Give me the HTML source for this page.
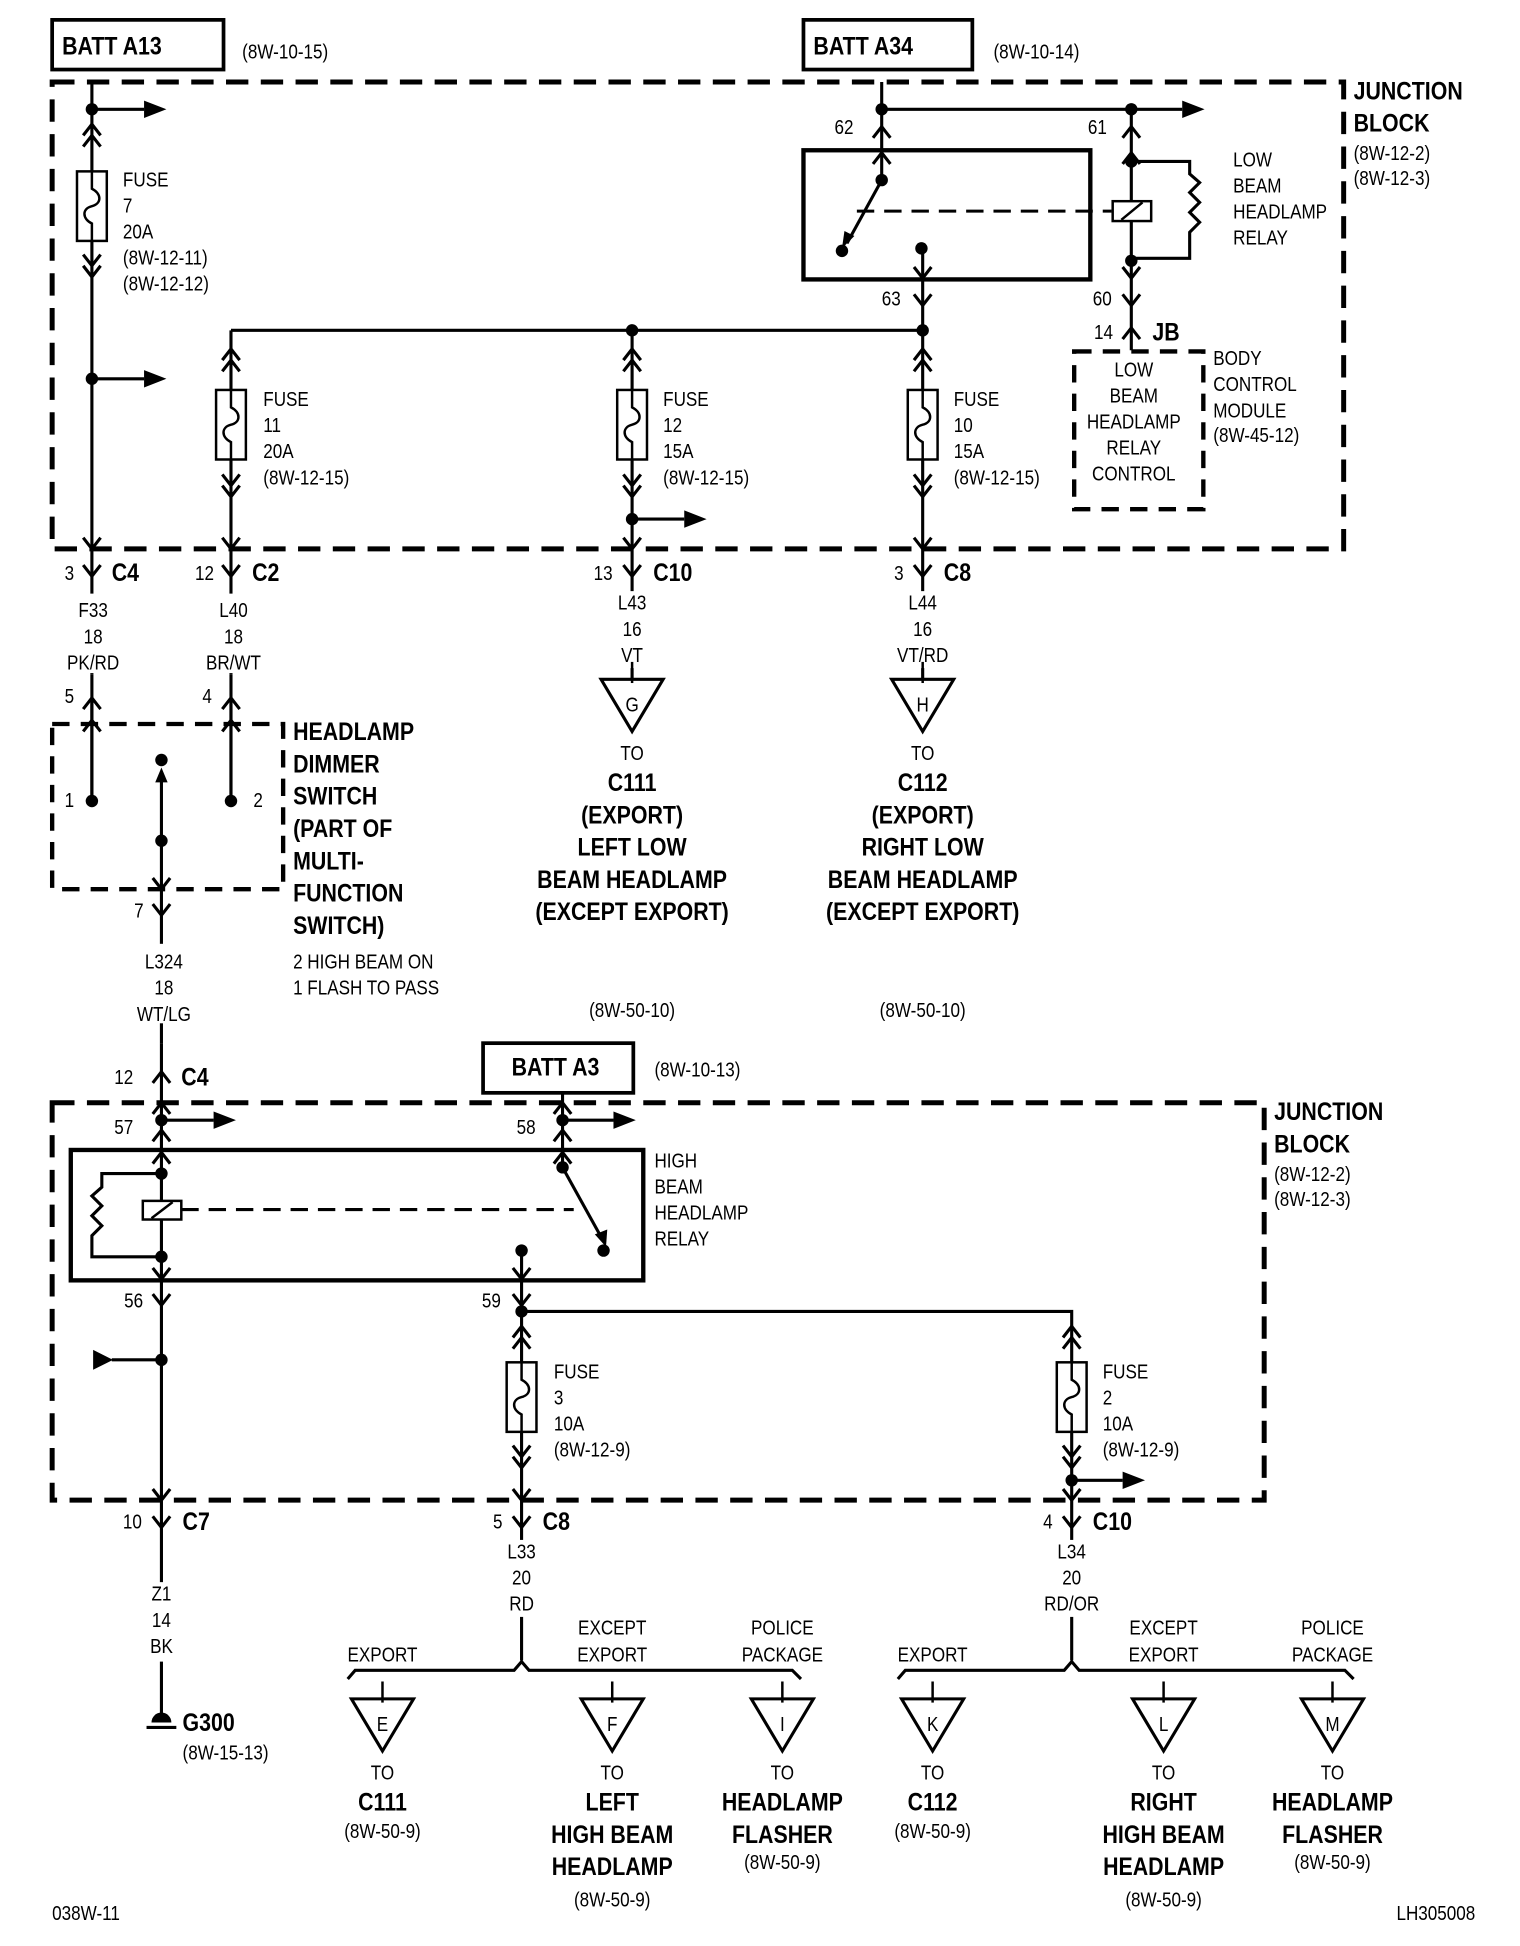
<!DOCTYPE html>
<html><head><meta charset="utf-8"><style>
html,body{margin:0;padding:0;background:#fff;}
svg{display:block;}
text{font-family:"Liberation Sans Narrow","Liberation Sans",sans-serif;fill:#000;transform-box:fill-box;transform-origin:0% 50%;transform:scaleX(0.86);}
.n{font-size:16px;}
.b{font-size:20px;font-weight:bold;}
.m{text-anchor:middle;transform-origin:50% 50%;}
.e{text-anchor:end;transform-origin:100% 50%;}
</style></head><body>
<svg width="1520" height="1946" viewBox="0 0 1224 1567" preserveAspectRatio="none" xmlns="http://www.w3.org/2000/svg">
<defs>
<path id="cd" d="M-7,-9 L0,0 L7,-9" fill="none" stroke="#000" stroke-width="2.5"/>
<path id="cu" d="M-7,9 L0,0 L7,9" fill="none" stroke="#000" stroke-width="2.5"/>
<circle id="dt" r="5" fill="#000"/>
<polygon id="ar" points="0,-7 18,0 0,7" fill="#000"/>
<g id="fz"><rect x="-12" y="0" width="24" height="56" fill="#fff" stroke="#000" stroke-width="2"/><path d="M0,0 v14 c8,4 8,12 0,14 c-8,2 -8,10 0,14 v14" fill="none" stroke="#000" stroke-width="2"/></g>
<g id="tri"><polygon points="-25,0 25,0 0,42" fill="#fff" stroke="#000" stroke-width="2.5"/><line x1="0" y1="-14" x2="0" y2="3" stroke="#000" stroke-width="2"/></g>
</defs>
<rect width="1224" height="1567" fill="#fff"/>

<rect x="42" y="16" width="138" height="40" fill="none" stroke="#000" stroke-width="3"/>
<text x="50" y="44" class="b">BATT A13</text>
<text x="195" y="47" class="n">(8W-10-15)</text>
<rect x="647" y="16" width="136" height="40" fill="none" stroke="#000" stroke-width="3"/>
<text x="655" y="44" class="b">BATT A34</text>
<text x="800" y="47" class="n">(8W-10-14)</text>

<rect x="42" y="66" width="1040" height="376" fill="none" stroke="#000" stroke-width="4" stroke-dasharray="18,10"/>
<text x="1090" y="80" class="b">JUNCTION</text>
<text x="1090" y="106" class="b">BLOCK</text>
<text x="1090" y="129" class="n">(8W-12-2)</text>
<text x="1090" y="149" class="n">(8W-12-3)</text>

<g stroke="#000" stroke-width="2.5" fill="none">
<path d="M74,66 V645 M74,88 H116 M74,305 H116"/>
<path d="M186,266 V645 M186,266 H743"/>
<path d="M509,266 V547 M509,418 H551"/>
<path d="M743,200 V547"/>
<path d="M710,66 V145 M710,88 H952"/>
<path d="M911,88 V282"/>
<path d="M710,145 L682,196"/>
<path d="M911,130 H958 V140 l8,7 l-8,8 l8,8 l-8,8 l8,8 l-8,8 V208 H911"/>
<path d="M690,170 H895" stroke-dasharray="14,8"/>
</g>
<rect x="647" y="121" width="231" height="104" fill="none" stroke="#000" stroke-width="3.5"/>
<rect x="896" y="162" width="31" height="16" fill="#fff" stroke="#000" stroke-width="2"/>
<line x1="903" y1="177" x2="920" y2="163" stroke="#000" stroke-width="2"/>
<polygon points="678,200 680,186 688,190" fill="#000"/>
<use href="#dt" x="678" y="202"/><use href="#dt" x="710" y="145"/><use href="#dt" x="742" y="200"/>
<use href="#dt" x="710" y="88"/><use href="#dt" x="911" y="88"/><use href="#dt" x="911" y="130"/><use href="#dt" x="911" y="210"/>
<use href="#ar" x="952" y="88"/>
<use href="#cu" x="710" y="102"/><use href="#cu" x="710" y="123"/>
<use href="#cu" x="911" y="102"/><use href="#cu" x="911" y="123"/>
<use href="#cd" x="743" y="224"/><use href="#cd" x="743" y="246"/>
<use href="#cd" x="911" y="224"/><use href="#cd" x="911" y="246"/>
<use href="#cu" x="911" y="264"/>
<text x="672" y="108" class="n">62</text><text x="876" y="108" class="n">61</text>
<text x="710" y="246" class="n">63</text><text x="880" y="246" class="n">60</text>
<text x="881" y="273" class="n">14</text><text x="928" y="274" class="b">JB</text>
<text x="993" y="134" class="n">LOW</text><text x="993" y="155" class="n">BEAM</text><text x="993" y="176" class="n">HEADLAMP</text><text x="993" y="197" class="n">RELAY</text>

<rect x="865" y="283" width="104" height="127" fill="none" stroke="#000" stroke-width="3.5" stroke-dasharray="14,9"/>
<text x="913" y="303" class="n m">LOW</text><text x="913" y="324" class="n m">BEAM</text><text x="913" y="345" class="n m">HEADLAMP</text><text x="913" y="366" class="n m">RELAY</text><text x="913" y="387" class="n m">CONTROL</text>
<text x="977" y="294" class="n">BODY</text><text x="977" y="315" class="n">CONTROL</text><text x="977" y="336" class="n">MODULE</text><text x="977" y="356" class="n">(8W-45-12)</text>

<use href="#dt" x="74" y="88"/><use href="#ar" x="116" y="88"/>
<use href="#cu" x="74" y="100"/><use href="#cu" x="74" y="109"/>
<use href="#fz" x="74" y="138"/>
<use href="#cd" x="74" y="214"/><use href="#cd" x="74" y="223"/>
<use href="#dt" x="74" y="305"/><use href="#ar" x="116" y="305"/>
<text x="99" y="150" class="n">FUSE</text><text x="99" y="171" class="n">7</text><text x="99" y="192" class="n">20A</text><text x="99" y="213" class="n">(8W-12-11)</text><text x="99" y="234" class="n">(8W-12-12)</text>

<use href="#cu" x="186" y="281"/><use href="#cu" x="186" y="290"/>
<use href="#fz" x="186" y="314"/>
<use href="#cd" x="186" y="391"/><use href="#cd" x="186" y="400"/>
<text x="212" y="327" class="n">FUSE</text><text x="212" y="348" class="n">11</text><text x="212" y="369" class="n">20A</text><text x="212" y="390" class="n">(8W-12-15)</text>

<use href="#dt" x="509" y="266"/>
<use href="#cu" x="509" y="281"/><use href="#cu" x="509" y="290"/>
<use href="#fz" x="509" y="314"/>
<use href="#cd" x="509" y="391"/><use href="#cd" x="509" y="400"/>
<use href="#dt" x="509" y="418"/><use href="#ar" x="551" y="418"/>
<text x="534" y="327" class="n">FUSE</text><text x="534" y="348" class="n">12</text><text x="534" y="369" class="n">15A</text><text x="534" y="390" class="n">(8W-12-15)</text>

<use href="#dt" x="743" y="266"/>
<use href="#cu" x="743" y="281"/><use href="#cu" x="743" y="290"/>
<use href="#fz" x="743" y="314"/>
<use href="#cd" x="743" y="391"/><use href="#cd" x="743" y="400"/>
<text x="768" y="327" class="n">FUSE</text><text x="768" y="348" class="n">10</text><text x="768" y="369" class="n">15A</text><text x="768" y="390" class="n">(8W-12-15)</text>

<use href="#cd" x="74" y="442"/><use href="#cd" x="74" y="464"/>
<use href="#cd" x="186" y="442"/><use href="#cd" x="186" y="464"/>
<use href="#cd" x="509" y="442"/><use href="#cd" x="509" y="464"/>
<use href="#cd" x="743" y="442"/><use href="#cd" x="743" y="464"/>
<text x="52" y="467" class="n">3</text><text x="90" y="468" class="b">C4</text>
<text x="157" y="467" class="n">12</text><text x="203" y="468" class="b">C2</text>
<text x="478" y="467" class="n">13</text><text x="526" y="468" class="b">C10</text>
<text x="720" y="467" class="n">3</text><text x="760" y="468" class="b">C8</text>

<rect x="62" y="478" width="26" height="64" fill="#fff"/><rect x="170" y="478" width="32" height="64" fill="#fff"/>
<rect x="490" y="476" width="38" height="62" fill="#fff"/><rect x="722" y="476" width="44" height="62" fill="#fff"/>
<text x="75" y="497" class="n m">F33</text><text x="75" y="518" class="n m">18</text><text x="75" y="539" class="n m">PK/RD</text>
<text x="188" y="497" class="n m">L40</text><text x="188" y="518" class="n m">18</text><text x="188" y="539" class="n m">BR/WT</text>
<text x="509" y="491" class="n m">L43</text><text x="509" y="512" class="n m">16</text><text x="509" y="533" class="n m">VT</text>
<text x="743" y="491" class="n m">L44</text><text x="743" y="512" class="n m">16</text><text x="743" y="533" class="n m">VT/RD</text>

<rect x="42" y="583" width="186" height="133" fill="none" stroke="#000" stroke-width="3.5" stroke-dasharray="14,9"/>
<rect x="60" y="543" width="30" height="22" fill="#fff"/><rect x="172" y="543" width="30" height="22" fill="#fff"/>
<line x1="74" y1="543" x2="74" y2="645" stroke="#000" stroke-width="2.5"/>
<line x1="186" y1="543" x2="186" y2="645" stroke="#000" stroke-width="2.5"/>
<use href="#cu" x="74" y="562"/><use href="#cu" x="74" y="580"/>
<use href="#cu" x="186" y="562"/><use href="#cu" x="186" y="580"/>
<use href="#dt" x="74" y="645"/><use href="#dt" x="186" y="645"/>
<text x="52" y="566" class="n">5</text><text x="163" y="566" class="n">4</text>
<text x="52" y="650" class="n">1</text><text x="204" y="650" class="n">2</text>
<line x1="130" y1="624" x2="130" y2="840" stroke="#000" stroke-width="2.5"/>
<polygon points="130,618 125,630 135,630" fill="#000"/>
<use href="#dt" x="130" y="612"/><use href="#dt" x="130" y="677"/>
<use href="#cd" x="130" y="716"/><use href="#cd" x="130" y="737"/>
<text x="108" y="739" class="n">7</text>
<text x="236" y="596" class="b">HEADLAMP</text><text x="236" y="622" class="b">DIMMER</text><text x="236" y="648" class="b">SWITCH</text><text x="236" y="674" class="b">(PART OF</text><text x="236" y="700" class="b">MULTI-</text><text x="236" y="726" class="b">FUNCTION</text><text x="236" y="752" class="b">SWITCH)</text>
<text x="236" y="780" class="n">2 HIGH BEAM ON</text><text x="236" y="801" class="n">1 FLASH TO PASS</text>
<rect x="112" y="760" width="38" height="64" fill="#fff"/>
<text x="132" y="780" class="n m">L324</text><text x="132" y="801" class="n m">18</text><text x="132" y="822" class="n m">WT/LG</text>

<use href="#tri" x="509" y="547"/><text x="509" y="573" class="n m">G</text>
<use href="#tri" x="743" y="547"/><text x="743" y="573" class="n m">H</text>
<text x="509" y="612" class="n m">TO</text><text x="509" y="637" class="b m">C111</text><text x="509" y="663" class="b m">(EXPORT)</text><text x="509" y="689" class="b m">LEFT LOW</text><text x="509" y="715" class="b m">BEAM HEADLAMP</text><text x="509" y="741" class="b m">(EXCEPT EXPORT)</text>
<text x="743" y="612" class="n m">TO</text><text x="743" y="637" class="b m">C112</text><text x="743" y="663" class="b m">(EXPORT)</text><text x="743" y="689" class="b m">RIGHT LOW</text><text x="743" y="715" class="b m">BEAM HEADLAMP</text><text x="743" y="741" class="b m">(EXCEPT EXPORT)</text>
<text x="509" y="819" class="n m">(8W-50-10)</text><text x="743" y="819" class="n m">(8W-50-10)</text>

<text x="92" y="873" class="n">12</text><text x="146" y="874" class="b">C4</text>
<rect x="389" y="840" width="121" height="40" fill="none" stroke="#000" stroke-width="3"/>
<text x="412" y="866" class="b">BATT A3</text>
<text x="527" y="867" class="n">(8W-10-13)</text>

<rect x="42" y="888" width="976" height="320" fill="none" stroke="#000" stroke-width="4" stroke-dasharray="18,10"/>
<text x="1026" y="902" class="b">JUNCTION</text><text x="1026" y="928" class="b">BLOCK</text>
<text x="1026" y="951" class="n">(8W-12-2)</text><text x="1026" y="971" class="n">(8W-12-3)</text>

<g stroke="#000" stroke-width="2.5" fill="none">
<path d="M130,840 V1385 M130,902 H172"/>
<path d="M453,880 V940 M453,902 H494"/>
<path d="M453,940 L484,996"/>
<path d="M420,1007 V1337 M420,1056 H863 V1337 M863,1192 H904"/>
<path d="M130,945 H82 V956 l-8,7 l8,8 l-8,8 l8,8 l-8,8 V1012 H130"/>
<path d="M146,974 H462" stroke-dasharray="14,8"/>
<path d="M90,1095 H130"/>
</g>
<rect x="57" y="926" width="461" height="105" fill="none" stroke="#000" stroke-width="3.5"/>
<rect x="115" y="967" width="31" height="15" fill="#fff" stroke="#000" stroke-width="2"/>
<line x1="122" y1="981" x2="139" y2="968" stroke="#000" stroke-width="2"/>
<polygon points="488,1004 479,994 489,990" fill="#000"/>
<polygon points="75,1087 91,1095 75,1103" fill="#000"/>
<use href="#dt" x="130" y="902"/><use href="#ar" x="172" y="902"/>
<use href="#dt" x="453" y="902"/><use href="#ar" x="494" y="902"/>
<use href="#cu" x="130" y="863"/><use href="#cu" x="130" y="888"/><use href="#cu" x="130" y="910"/><use href="#cu" x="130" y="928"/>
<use href="#cu" x="453" y="888"/><use href="#cu" x="453" y="910"/><use href="#cu" x="453" y="928"/>
<use href="#dt" x="130" y="945"/><use href="#dt" x="130" y="1012"/>
<use href="#dt" x="453" y="940"/><use href="#dt" x="486" y="1007"/><use href="#dt" x="420" y="1007"/>
<use href="#cd" x="130" y="1030"/><use href="#cd" x="130" y="1051"/>
<use href="#cd" x="420" y="1030"/><use href="#cd" x="420" y="1051"/>
<use href="#dt" x="420" y="1056"/><use href="#dt" x="130" y="1095"/>
<text x="92" y="913" class="n">57</text><text x="416" y="913" class="n">58</text>
<text x="100" y="1053" class="n">56</text><text x="388" y="1053" class="n">59</text>
<text x="527" y="940" class="n">HIGH</text><text x="527" y="961" class="n">BEAM</text><text x="527" y="982" class="n">HEADLAMP</text><text x="527" y="1003" class="n">RELAY</text>

<use href="#cu" x="420" y="1068"/><use href="#cu" x="420" y="1077"/>
<use href="#fz" x="420" y="1097"/>
<use href="#cd" x="420" y="1173"/><use href="#cd" x="420" y="1182"/>
<text x="446" y="1110" class="n">FUSE</text><text x="446" y="1131" class="n">3</text><text x="446" y="1152" class="n">10A</text><text x="446" y="1173" class="n">(8W-12-9)</text>
<use href="#cu" x="863" y="1068"/><use href="#cu" x="863" y="1077"/>
<use href="#fz" x="863" y="1097"/>
<use href="#cd" x="863" y="1173"/><use href="#cd" x="863" y="1182"/>
<use href="#dt" x="863" y="1192"/><use href="#ar" x="904" y="1192"/>
<text x="888" y="1110" class="n">FUSE</text><text x="888" y="1131" class="n">2</text><text x="888" y="1152" class="n">10A</text><text x="888" y="1173" class="n">(8W-12-9)</text>

<use href="#cd" x="130" y="1208"/><use href="#cd" x="130" y="1230"/>
<use href="#cd" x="420" y="1208"/><use href="#cd" x="420" y="1230"/>
<use href="#cd" x="863" y="1208"/><use href="#cd" x="863" y="1230"/>
<text x="99" y="1231" class="n">10</text><text x="147" y="1232" class="b">C7</text>
<text x="397" y="1231" class="n">5</text><text x="437" y="1232" class="b">C8</text>
<text x="840" y="1231" class="n">4</text><text x="880" y="1232" class="b">C10</text>

<rect x="112" y="1274" width="38" height="64" fill="#fff"/>
<text x="130" y="1289" class="n m">Z1</text><text x="130" y="1310" class="n m">14</text><text x="130" y="1331" class="n m">BK</text>
<rect x="402" y="1240" width="36" height="62" fill="#fff"/>
<text x="420" y="1255" class="n m">L33</text><text x="420" y="1276" class="n m">20</text><text x="420" y="1297" class="n m">RD</text>
<rect x="840" y="1240" width="46" height="62" fill="#fff"/>
<text x="863" y="1255" class="n m">L34</text><text x="863" y="1276" class="n m">20</text><text x="863" y="1297" class="n m">RD/OR</text>

<path d="M122,1387 a8,8 0 0 1 16,0 z" fill="#000"/>
<line x1="118" y1="1391" x2="142" y2="1391" stroke="#000" stroke-width="2.5"/>
<text x="147" y="1394" class="b">G300</text><text x="147" y="1417" class="n">(8W-15-13)</text>

<g stroke="#000" stroke-width="2.5" fill="none">
<path d="M280,1352 L286,1345 H414 L420,1338 L426,1345 H638 L645,1352"/>
<path d="M723,1352 L729,1345 H857 L863,1338 L869,1345 H1083 L1090,1352"/>
</g>
<text x="308" y="1338" class="n m">EXPORT</text>
<text x="493" y="1316" class="n m">EXCEPT</text><text x="493" y="1338" class="n m">EXPORT</text>
<text x="630" y="1316" class="n m">POLICE</text><text x="630" y="1338" class="n m">PACKAGE</text>
<text x="751" y="1338" class="n m">EXPORT</text>
<text x="937" y="1316" class="n m">EXCEPT</text><text x="937" y="1338" class="n m">EXPORT</text>
<text x="1073" y="1316" class="n m">POLICE</text><text x="1073" y="1338" class="n m">PACKAGE</text>

<use href="#tri" x="308" y="1368"/><text x="308" y="1394" class="n m">E</text>
<use href="#tri" x="493" y="1368"/><text x="493" y="1394" class="n m">F</text>
<use href="#tri" x="630" y="1368"/><text x="630" y="1394" class="n m">I</text>
<use href="#tri" x="751" y="1368"/><text x="751" y="1394" class="n m">K</text>
<use href="#tri" x="937" y="1368"/><text x="937" y="1394" class="n m">L</text>
<use href="#tri" x="1073" y="1368"/><text x="1073" y="1394" class="n m">M</text>

<text x="308" y="1433" class="n m">TO</text><text x="308" y="1458" class="b m">C111</text><text x="308" y="1480" class="n m">(8W-50-9)</text>
<text x="493" y="1433" class="n m">TO</text><text x="493" y="1458" class="b m">LEFT</text><text x="493" y="1484" class="b m">HIGH BEAM</text><text x="493" y="1510" class="b m">HEADLAMP</text><text x="493" y="1535" class="n m">(8W-50-9)</text>
<text x="630" y="1433" class="n m">TO</text><text x="630" y="1458" class="b m">HEADLAMP</text><text x="630" y="1484" class="b m">FLASHER</text><text x="630" y="1505" class="n m">(8W-50-9)</text>
<text x="751" y="1433" class="n m">TO</text><text x="751" y="1458" class="b m">C112</text><text x="751" y="1480" class="n m">(8W-50-9)</text>
<text x="937" y="1433" class="n m">TO</text><text x="937" y="1458" class="b m">RIGHT</text><text x="937" y="1484" class="b m">HIGH BEAM</text><text x="937" y="1510" class="b m">HEADLAMP</text><text x="937" y="1535" class="n m">(8W-50-9)</text>
<text x="1073" y="1433" class="n m">TO</text><text x="1073" y="1458" class="b m">HEADLAMP</text><text x="1073" y="1484" class="b m">FLASHER</text><text x="1073" y="1505" class="n m">(8W-50-9)</text>

<text x="42" y="1546" class="n">038W-11</text>
<text x="1188" y="1546" class="n e">LH305008</text>
</svg>
</body></html>
